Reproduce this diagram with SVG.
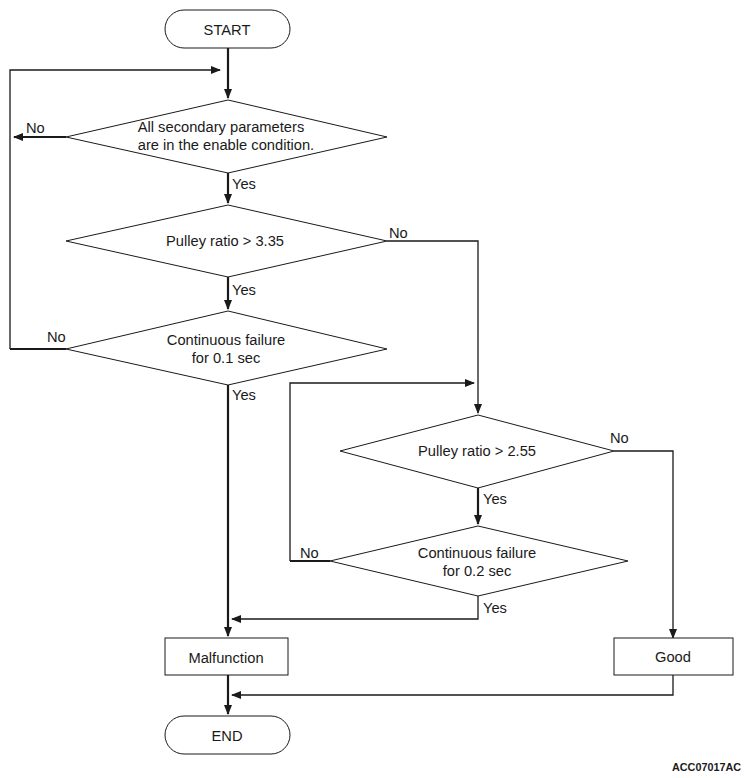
<svg xmlns="http://www.w3.org/2000/svg" width="749" height="778" viewBox="0 0 749 778">
<defs>
<marker id="ah" markerWidth="10" markerHeight="8" refX="9" refY="4" orient="auto" markerUnits="userSpaceOnUse">
<path d="M0,0 L10,4 L0,8 Z" fill="#1a1a1a"/>
</marker>
</defs>
<style>
.shape{fill:#fff;stroke:#1a1a1a;stroke-width:1}
.t{font-family:"Liberation Sans",Arial,sans-serif;font-size:14.7px;fill:#1a1a1a;text-anchor:middle}
.l{font-family:"Liberation Sans",Arial,sans-serif;font-size:14.7px;fill:#1a1a1a}
.c{fill:none;stroke:#1a1a1a;stroke-width:1.3}
.ck{fill:none;stroke:#1a1a1a;stroke-width:2.2}
</style>
<rect width="749" height="778" fill="#fff"/>
<g id="connectors">
<path class="ck" d="M228,48 V98" marker-end="url(#ah)"/>
<path class="c" d="M10,349 V70 H220" marker-end="url(#ah)"/>
<path class="ck" d="M66,137 H14" marker-end="url(#ah)"/>
<path class="ck" d="M228,173 V203" marker-end="url(#ah)"/>
<path class="c" d="M387,241 H478 V413" marker-end="url(#ah)"/>
<path class="ck" d="M228,277 V309" marker-end="url(#ah)"/>
<path class="ck" d="M66,349 H10"/>
<path class="ck" d="M228,385 V636" marker-end="url(#ah)"/>
<path class="c" d="M290,561 V383 H474" marker-end="url(#ah)"/>
<path class="c" d="M614,451 H673 V638" marker-end="url(#ah)"/>
<path class="ck" d="M478,488 V524" marker-end="url(#ah)"/>
<path class="ck" d="M330,561 H290"/>
<path class="c" d="M478,596 V619 H232" marker-end="url(#ah)"/>
<path class="ck" d="M228,675 V714" marker-end="url(#ah)"/>
<path class="c" d="M673,675 V695 H232" marker-end="url(#ah)"/>
</g>
<g id="start">
<rect class="shape" x="165" y="10" width="125" height="38" rx="19"/>
<text class="t" x="227" y="35">START</text>
</g>
<g id="d1">
<polygon class="shape" points="228,100 387,137 228,173 66,137"/>
<text class="t" x="221" y="132">All secondary parameters</text>
<text class="t" x="226" y="150">are in the enable condition.</text>
</g>
<g id="d2">
<polygon class="shape" points="228,205 387,241 228,277 66,241"/>
<text class="t" x="225" y="246">Pulley ratio &gt; 3.35</text>
</g>
<g id="d3">
<polygon class="shape" points="228,311 387,349 228,385 66,349"/>
<text class="t" x="226" y="345">Continuous failure</text>
<text class="t" x="226" y="363">for 0.1 sec</text>
</g>
<g id="d4">
<polygon class="shape" points="478,415 614,451 478,488 340,451"/>
<text class="t" x="477" y="456">Pulley ratio &gt; 2.55</text>
</g>
<g id="d5">
<polygon class="shape" points="478,526 628,561 478,596 330,561"/>
<text class="t" x="477" y="558">Continuous failure</text>
<text class="t" x="477" y="576">for 0.2 sec</text>
</g>
<g id="malfunction">
<rect class="shape" x="165" y="638" width="123" height="37"/>
<text class="t" x="226" y="663">Malfunction</text>
</g>
<g id="good">
<rect class="shape" x="614" y="638" width="119" height="37"/>
<text class="t" x="673" y="662">Good</text>
</g>
<g id="end">
<rect class="shape" x="165" y="716" width="125" height="38" rx="19"/>
<text class="t" x="227" y="741">END</text>
</g>
<g id="labels">
<text class="l" x="26" y="133">No</text>
<text class="l" x="232" y="189">Yes</text>
<text class="l" x="389" y="238">No</text>
<text class="l" x="232" y="295">Yes</text>
<text class="l" x="47" y="342">No</text>
<text class="l" x="232" y="400">Yes</text>
<text class="l" x="610" y="443">No</text>
<text class="l" x="483" y="504">Yes</text>
<text class="l" x="300" y="558">No</text>
<text class="l" x="483" y="613">Yes</text>
<text x="741" y="771" font-family="Liberation Sans,Arial,sans-serif" font-size="10.8" font-weight="bold" text-anchor="end" fill="#1a1a1a">ACC07017AC</text>
</g>
</svg>
